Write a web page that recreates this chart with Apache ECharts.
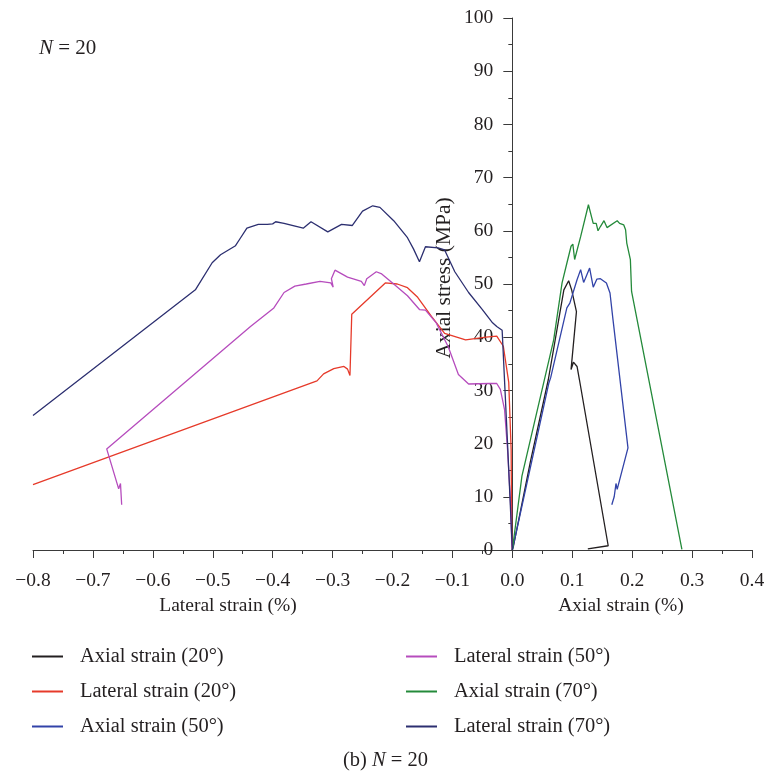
<!DOCTYPE html>
<html>
<head>
<meta charset="utf-8">
<script src="https://cdn.jsdelivr.net/npm/echarts@6/dist/echarts.min.js"></script>
<style>
  html, body { margin: 0; padding: 0; background: #fff; }
  #chart { width: 771px; height: 777px; }
</style>
</head>
<body>
<div id="chart"></div>
<script>
// Stress–strain curves, N = 20 cycles. Strain in %, stress in MPa.
// Each curve is listed in loading order, starting at the origin.

const seriesNames = [
  'Axial strain (20°)', 'Lateral strain (20°)', 'Axial strain (50°)',
  'Lateral strain (50°)', 'Axial strain (70°)', 'Lateral strain (70°)'
];

const axial20Strain = [0.000, 0.002, 0.030, 0.060, 0.086, 0.094, 0.099, 0.107, 0.098, 0.102, 0.108, 0.112, 0.160, 0.126];
const axial20Stress = [0.0, 0.8, 16.5, 32.0, 48.9, 50.6, 48.9, 44.8, 33.9, 35.3, 34.5, 32.0, 0.8, 0.2];

const lateral20Strain = [0.000, -0.001, -0.002, -0.006, -0.015, -0.026, -0.044, -0.078, -0.113, -0.135, -0.158, -0.175, -0.192, -0.212, -0.268, -0.271, -0.275, -0.281, -0.298, -0.315, -0.326, -0.800];
const lateral20Stress = [0.0, 2.0, 18.9, 31.5, 38.3, 40.2, 40.0, 39.5, 40.7, 43.9, 47.5, 49.3, 50.0, 50.2, 44.3, 32.8, 34.0, 34.5, 34.1, 33.1, 31.8, 12.3];

const axial50Strain = [0.000, 0.061, 0.064, 0.091, 0.096, 0.108, 0.114, 0.116, 0.119, 0.122, 0.129, 0.132, 0.135, 0.141, 0.147, 0.157, 0.163, 0.168, 0.193, 0.175, 0.173, 0.170, 0.166];
const axial50Stress = [0.0, 31.4, 32.4, 45.5, 46.4, 50.8, 52.7, 52.7, 50.3, 51.1, 53.0, 53.1, 49.4, 50.9, 51.0, 50.2, 48.3, 43.3, 19.2, 11.4, 12.5, 10.0, 8.5];

const lateral50Strain = [0.000, -0.001, -0.003, -0.008, -0.013, -0.020, -0.026, -0.038, -0.073, -0.090, -0.107, -0.127, -0.145, -0.155, -0.175, -0.198, -0.218, -0.227, -0.243, -0.247, -0.252, -0.275, -0.296, -0.302, -0.299, -0.303, -0.321, -0.344, -0.363, -0.381, -0.398, -0.437, -0.677, -0.657, -0.654, -0.652];
const lateral50Stress = [0.0, 1.4, 8.9, 18.9, 26.4, 30.2, 31.3, 31.3, 31.2, 33.0, 38.2, 42.7, 45.1, 45.2, 47.8, 50.0, 51.9, 52.3, 51.0, 49.7, 50.5, 51.3, 52.6, 51.0, 49.4, 50.2, 50.5, 50.0, 49.6, 48.4, 45.5, 42.0, 19.0, 11.5, 12.5, 8.5];

const axial70Strain = [0.000, 0.016, 0.069, 0.083, 0.091, 0.098, 0.101, 0.104, 0.114, 0.127, 0.130, 0.135, 0.140, 0.143, 0.147, 0.153, 0.158, 0.175, 0.179, 0.186, 0.189, 0.191, 0.197, 0.199, 0.283];
const axial70Stress = [0.0, 13.9, 39.5, 50.2, 53.9, 57.1, 57.5, 54.6, 58.9, 64.9, 64.6, 61.4, 61.4, 60.0, 60.8, 61.9, 60.6, 61.9, 61.4, 61.1, 60.2, 57.7, 54.6, 48.6, 0.1];

const lateral70Strain = [0.000, -0.002, -0.008, -0.017, -0.026, -0.033, -0.050, -0.073, -0.096, -0.113, -0.124, -0.145, -0.148, -0.155, -0.165, -0.175, -0.198, -0.221, -0.233, -0.250, -0.267, -0.285, -0.308, -0.336, -0.349, -0.381, -0.395, -0.400, -0.409, -0.424, -0.443, -0.454, -0.462, -0.487, -0.501, -0.529, -0.800];
const lateral70Stress = [0.0, 5.0, 20.0, 41.3, 42.0, 42.7, 45.2, 48.4, 52.3, 56.4, 56.8, 57.0, 57.1, 54.2, 56.6, 58.7, 61.9, 64.4, 64.7, 63.7, 61.0, 61.2, 59.8, 61.7, 60.5, 61.4, 61.7, 61.3, 61.2, 61.2, 60.5, 58.6, 57.2, 55.5, 54.0, 48.9, 25.3];

const xTicks = { min: -0.8, max: 0.4, step: 0.1 };
const yTicks = { min: 0, max: 100, step: 10 };

const colors = ['#231f20', '#e63a2a', '#3243a8', '#b64cbd', '#248a3a', '#2c2f70'];

const curves = [
  [axial20Strain, axial20Stress],
  [lateral20Strain, lateral20Stress],
  [axial50Strain, axial50Stress],
  [lateral50Strain, lateral50Stress],
  [axial70Strain, axial70Stress],
  [lateral70Strain, lateral70Stress]
];

const serif = '"Liberation Serif", "DejaVu Serif", serif';
const textColor = '#231f20';
const axisColor = '#3a3a3a';

// plot box
const W = 771, H = 777;
const gridLeft = 33, gridRight = 19, gridTop = 18, gridBottom = 227;
const plotWidth = W - gridLeft - gridRight;
// the stress axis sits at zero strain: shift it inward from the left edge
const yAxisShift = plotWidth * (0 - xTicks.min) / (xTicks.max - xTicks.min);

const fmtTick = v => {
  const s = Math.abs(v).toFixed(1);
  return v < -1e-9 ? '\u2212' + s : s;
};

const series = curves.map((c, i) => ({
  name: seriesNames[i],
  type: 'line',
  data: c[0].map((x, k) => [x, c[1][k]]),
  showSymbol: false,
  symbol: 'none',
  smooth: false,
  color: colors[i],
  lineStyle: { width: 1.3, color: colors[i] },
  emphasis: { disabled: true },
  animation: false
}));

const legendBase = {
  orient: 'vertical',
  icon: 'rect',
  itemWidth: 31,
  itemHeight: 2,
  itemGap: 14,
  padding: 0,
  selectedMode: false,
  textStyle: { fontFamily: serif, fontSize: 20.5, color: textColor, padding: [0, 0, 0, 12] }
};

const chart = echarts.init(document.getElementById('chart'), null, { renderer: 'canvas' });

chart.setOption({
  backgroundColor: '#ffffff',
  animation: false,
  grid: {
    left: gridLeft, right: gridRight, top: gridTop, bottom: gridBottom,
    containLabel: false, outerBoundsMode: 'none'
  },
  xAxis: {
    type: 'value',
    min: xTicks.min, max: xTicks.max, interval: xTicks.step,
    axisLine: { onZero: false, lineStyle: { color: axisColor, width: 1 } },
    axisTick: { length: 8, lineStyle: { color: axisColor } },
    minorTick: { show: true, splitNumber: 2, length: 4, lineStyle: { color: axisColor } },
    splitLine: { show: false },
    minorSplitLine: { show: false },
    axisLabel: { formatter: fmtTick, margin: 21, fontFamily: serif, fontSize: 19.5, color: textColor }
  },
  yAxis: {
    type: 'value',
    position: 'left',
    offset: -yAxisShift,
    min: yTicks.min, max: yTicks.max, interval: yTicks.step,
    axisLine: { onZero: false, lineStyle: { color: axisColor, width: 1 } },
    axisTick: { length: 9, lineStyle: { color: axisColor } },
    minorTick: { show: true, splitNumber: 2, length: 4, lineStyle: { color: axisColor } },
    splitLine: { show: false },
    minorSplitLine: { show: false },
    axisLabel: { margin: 19, fontFamily: serif, fontSize: 19.5, color: textColor }
  },
  legend: [
    Object.assign({}, legendBase, { data: seriesNames.slice(0, 3), left: 32, top: 646 }),
    Object.assign({}, legendBase, { data: seriesNames.slice(3, 6), left: 406, top: 646 })
  ],
  title: [
    {
      text: '{i|N} = 20',
      left: 39, top: 38, padding: 0,
      textStyle: {
        fontFamily: serif, fontSize: 21, fontWeight: 'normal', color: textColor,
        rich: { i: { fontFamily: serif, fontSize: 21, fontStyle: 'italic', color: textColor } }
      }
    },
    {
      text: '(b) {i|N} = 20',
      left: 'center', top: 750, padding: 0,
      textStyle: {
        fontFamily: serif, fontSize: 20.5, fontWeight: 'normal', color: textColor,
        rich: { i: { fontFamily: serif, fontSize: 20.5, fontStyle: 'italic', color: textColor } }
      }
    }
  ],
  graphic: [
    {
      type: 'text', x: 228, y: 606,
      style: { text: 'Lateral strain (%)', font: '19.5px ' + serif, fill: textColor, textAlign: 'center', textVerticalAlign: 'middle' }
    },
    {
      type: 'text', x: 621, y: 606,
      style: { text: 'Axial strain (%)', font: '19.5px ' + serif, fill: textColor, textAlign: 'center', textVerticalAlign: 'middle' }
    },
    {
      type: 'text', x: 444, y: 278, rotation: Math.PI / 2,
      style: { text: 'Axial stress (MPa)', font: '21.5px ' + serif, fill: textColor, textAlign: 'center', textVerticalAlign: 'middle' }
    }
  ],
  series: series
});
</script>
</body>
</html>
